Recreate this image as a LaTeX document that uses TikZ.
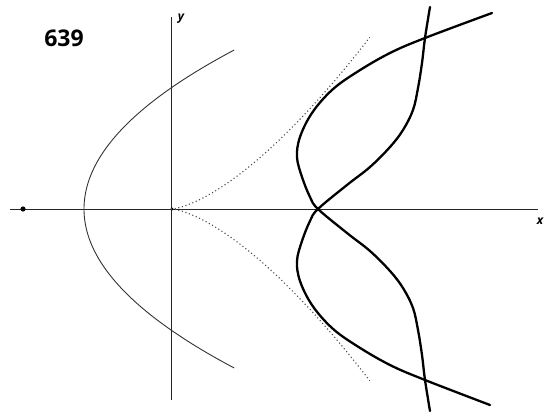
\documentclass[tikz,border=0pt]{standalone}
\usepackage{fontspec}
\setmainfont{Open Sans}
\begin{document}
\begin{tikzpicture}[x=1pt,y=-1pt,
  axis/.style={line width=0.9pt, black!85},
  thin curve/.style={line width=0.9pt, black!80},
  thick curve/.style={line width=2.3pt, black, line cap=round},
  dotline/.style={line width=1.1pt, black!70, dash pattern=on 1.1pt off 2.6pt},
  lbl/.style={font=\fontsize{12}{12}\selectfont\itshape\bfseries, inner sep=0pt}]
\useasboundingbox (0,0) rectangle (550,415);
% axes
\coordinate (xl) at (10,209);
\coordinate (xr) at (538,209);
\coordinate (yt) at (171,17);
\coordinate (yb) at (171,400);
\draw[axis] (xl) -- (xr);
\draw[axis] (yb) -- (yt);
\node[lbl] (ylab) at (181,19) {y};
\node[lbl] (xlab) at (540,221) {x};
\node[inner sep=0pt, font=\fontsize{23}{23}\selectfont\bfseries] (num) at (64,38) {639};
% dots
\fill (23,209) circle (2.6);
\fill (172,209) circle (1.6);
% parabola
\draw[thin curve] plot[domain=-1.59:1.59, samples=80, smooth] ({84+87*\x*\x/1.4641},{209-100*\x});
% semicubical parabola (dotted)
\draw[dotline] plot[domain=0:1, samples=60, smooth] ({171+199*\x*\x},{209-172*\x*\x*\x});
\draw[dotline] plot[domain=0:1, samples=60, smooth] ({171+199*\x*\x},{209+172*\x*\x*\x});
% thick curves
\draw[thick curve] plot[smooth, tension=0.6] coordinates {
  (492,13) (425,38) (390,53) (357,72) (332,90) (312,113) (300,137) (297,157) (302,177) (310,197) (318,209)
  (347,233) (370,251) (390,271) (403,288) (413,308) (418,330) (422,355) (425,380) (430,411)};
\draw[thick curve] plot[smooth, tension=0.6] coordinates {
  (490,405) (425,380) (390,365) (357,346) (332,328) (312,305) (300,281) (297,261) (302,241) (310,221) (318,209)
  (347,185) (370,167) (390,147) (403,130) (413,110) (418,88) (422,63) (425,38) (430,7)};
\end{tikzpicture}
\end{document}
